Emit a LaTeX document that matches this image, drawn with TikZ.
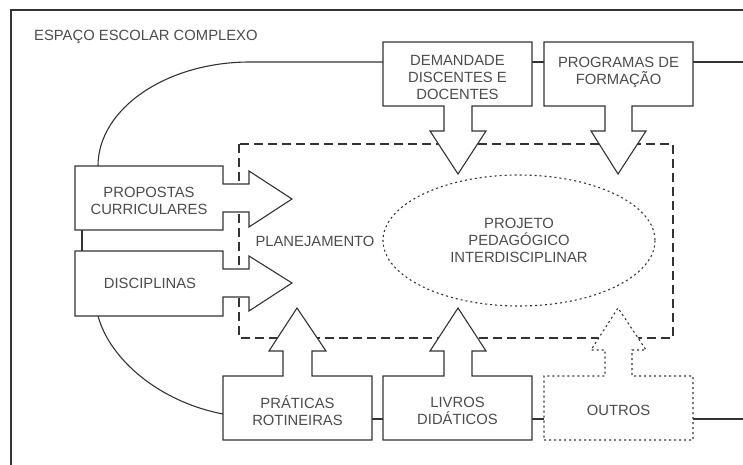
\documentclass[tikz,border=0pt]{standalone}
\usepackage{fontspec}
\setmainfont{Liberation Sans}
\begin{document}
\begin{tikzpicture}[x=1pt,y=-1pt,
  ln/.style={draw=black!80, line width=1.1pt},
  txt/.style={text=black!70, font=\fontsize{14.8}{17}\selectfont, align=center, inner sep=0pt},
  dashln/.style={draw=black!80, line width=1.1pt, dash pattern=on 9pt off 5pt},
  dotln/.style={draw=black!80, line width=1.1pt, dash pattern=on 2pt off 3pt}]
\useasboundingbox (0,0) rectangle (743,465);
% frame
\draw[draw=black!80, line width=1.1pt] (11,465) -- (11,10) -- (743,10);
% planejamento dashed region
\draw[dashln] (239,144) rectangle (673,338);
% ellipse
\draw[dotln] (519,240.5) ellipse [x radius=136, y radius=65.5];
\node[txt] (proj) at (519,240) {PROJETO\\PEDAGÓGICO\\INTERDISCIPLINAR};
\node[txt] (plan) at (315,241) {PLANEJAMENTO};
\node[txt, anchor=west] (title) at (34,37) {ESPAÇO ESCOLAR COMPLEXO};
% connecting curves and lines
\coordinate (re1) at (743,62);
\coordinate (re2) at (743,419);
\draw[ln] (383,62) -- (250,62) .. controls (166,62) and (98,109) .. (98,166);
\draw[ln] (532,62) -- (544,62);
\draw[ln] (693,62) -- (re1);
\draw[ln] (82,230) -- (82,251);
\draw[ln] (98,316) .. controls (110,360) and (160,402) .. (223,414);
\draw[ln] (372,419) -- (383,419);
\draw[ln] (532,419) -- (544,419);
\draw[ln] (693,419) -- (re2);
% top boxes with down arrows
\draw[ln, fill=white] (383,42) -- (532,42) -- (532,106) -- (472,106) -- (472,131) -- (486,131) -- (458,174) -- (430,131) -- (444,131) -- (444,106) -- (383,106) -- cycle;
\node[txt] (dem) at (457.5,77) {DEMANDADE\\DISCENTES E\\DOCENTES};
\draw[ln, fill=white] (544,42) -- (693,42) -- (693,106) -- (632,106) -- (632,131) -- (646,131) -- (618,174) -- (591,131) -- (605,131) -- (605,106) -- (544,106) -- cycle;
\node[txt] (prog) at (618.5,72.5) {PROGRAMAS DE\\FORMAÇÃO};
% left boxes with right arrows
\draw[ln, fill=white] (75,166) -- (223,166) -- (223,184) -- (249,184) -- (249,171) -- (292,199) -- (249,227) -- (249,212) -- (223,212) -- (223,230) -- (75,230) -- cycle;
\node[txt] (prop) at (149,200.5) {PROPOSTAS\\CURRICULARES};
\draw[ln, fill=white] (75,251) -- (223,251) -- (223,269) -- (249,269) -- (249,256) -- (292,283) -- (249,311) -- (249,297) -- (223,297) -- (223,316) -- (75,316) -- cycle;
\node[txt] (disc) at (150,283) {DISCIPLINAS};
% bottom boxes with up arrows
\draw[ln, fill=white] (223,440) -- (372,440) -- (372,376) -- (312,376) -- (312,351) -- (326,351) -- (297,308) -- (269,351) -- (283,351) -- (283,376) -- (223,376) -- cycle;
\node[txt] (prat) at (297.5,410.5) {PRÁTICAS\\ROTINEIRAS};
\draw[ln, fill=white] (383,440) -- (532,440) -- (532,376) -- (472,376) -- (472,351) -- (486,351) -- (458,308) -- (430,351) -- (444,351) -- (444,376) -- (383,376) -- cycle;
\node[txt] (livr) at (457.5,410.5) {LIVROS\\DIDÁTICOS};
\draw[dotln, fill=white] (544,440) -- (693,440) -- (693,376) -- (632,376) -- (632,350) -- (646,350) -- (618,308) -- (591,350) -- (605,350) -- (605,376) -- (544,376) -- cycle;
\node[txt] (outr) at (618.5,410) {OUTROS};
\end{tikzpicture}
\end{document}
